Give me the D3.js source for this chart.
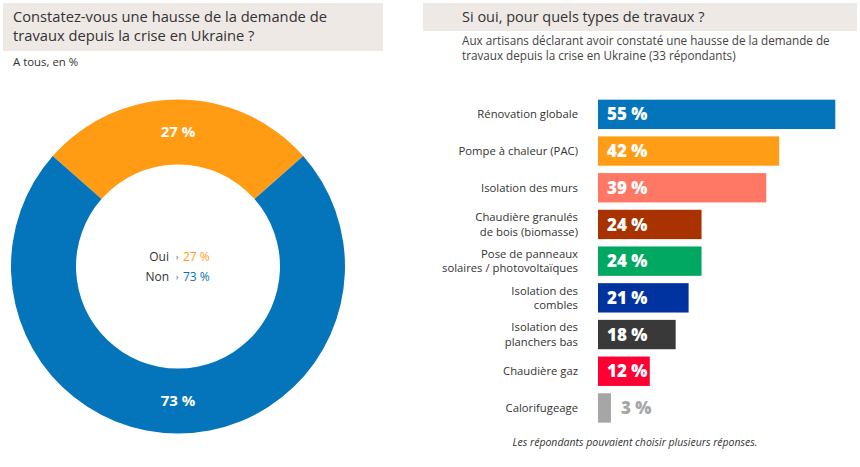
<!DOCTYPE html>
<html><head><meta charset="utf-8">
<script src="https://cdn.jsdelivr.net/npm/d3@7/dist/d3.min.js"></script>
<style>
html,body{margin:0;padding:0;background:#fff;}
svg{display:block;font-family:"Open Sans",sans-serif;}
</style></head>
<body>
<svg id="c" width="860" height="467"></svg>
<script>
// Donut data
const donutLabels = ["Oui", "Non"];
const donutValues = [27, 73];
const donutColors = ["#FF9C14", "#0474BB"];

// Bar data
const barCategories = [
  ["Rénovation globale"],
  ["Pompe à chaleur (PAC)"],
  ["Isolation des murs"],
  ["Chaudière granulés", "de bois (biomasse)"],
  ["Pose de panneaux", "solaires / photovoltaïques"],
  ["Isolation des", "combles"],
  ["Isolation des", "planchers bas"],
  ["Chaudière gaz"],
  ["Calorifugeage"]
];
const barValues = [55, 42, 39, 24, 24, 21, 18, 12, 3];
const barColors = ["#0474BB", "#FF9E16", "#FF7866", "#A83300", "#00A862", "#0033A0", "#393939", "#FF0035", "#A6A6A6"];

const svg = d3.select("#c");
const boxFill = "#EFE9E6";
const textCol = "#333333";

// ---- Left panel header
svg.append("rect").attr("x", 3).attr("y", 3).attr("width", 380).attr("height", 48).attr("fill", boxFill);
const lt = svg.append("text").attr("fill", textCol).attr("font-size", 14.7);
lt.append("tspan").attr("x", 13).attr("y", 22).text("Constatez-vous une hausse de la demande de");
lt.append("tspan").attr("x", 13).attr("y", 41).text("travaux depuis la crise en Ukraine ?");
svg.append("text").attr("x", 13).attr("y", 66).attr("font-size", 11.4).attr("fill", textCol).text("A tous, en %");

// ---- Donut
const cx = 178, cy = 266.5, rO = 167, rI = 102;
const half = Math.PI * donutValues[0] / 100;
const pie = d3.pie().sort(null).value(d => d).startAngle(-half).endAngle(2 * Math.PI - half);
const arcs = pie(donutValues);
const arc = d3.arc().innerRadius(rI).outerRadius(rO);
const g = svg.append("g").attr("transform", `translate(${cx},${cy})`);
g.selectAll("path").data(arcs).join("path").attr("d", arc).attr("fill", (d, i) => donutColors[i]);
const labArc = d3.arc().innerRadius((rI + rO) / 2).outerRadius((rI + rO) / 2);
g.selectAll("text.sl").data(arcs).join("text").attr("class", "sl")
  .attr("x", d => labArc.centroid(d)[0])
  .attr("y", d => labArc.centroid(d)[1])
  .attr("dy", "0.35em")
  .attr("text-anchor", "middle")
  .attr("fill", "#fff").attr("font-weight", 700).attr("font-size", 15)
  .text(d => d.value + " %");

// center legend
const leg = g.append("g");
donutLabels.forEach((l, i) => {
  const yy = -6 + i * 20;
  leg.append("text").attr("x", -9).attr("y", yy).attr("text-anchor", "end").attr("font-size", 12).attr("fill", textCol).text(l);
  leg.append("text").attr("x", -1).attr("y", yy - 1).attr("text-anchor", "middle").attr("font-size", 9).attr("fill", "#666").text("›");
  leg.append("text").attr("x", 5).attr("y", yy).attr("font-size", 12).attr("fill", donutColors[i]).text(donutValues[i] + " %");
});

// ---- Right panel header
svg.append("rect").attr("x", 423).attr("y", 3).attr("width", 434).attr("height", 28).attr("fill", boxFill);
svg.append("text").attr("x", 462).attr("y", 22).attr("font-size", 14.5).attr("fill", textCol).text("Si oui, pour quels types de travaux ?");
const st = svg.append("text").attr("font-size", 11.7).attr("fill", "#444");
st.append("tspan").attr("x", 462).attr("y", 45).text("Aux artisans déclarant avoir constaté une hausse de la demande de");
st.append("tspan").attr("x", 462).attr("y", 60).text("travaux depuis la crise en Ukraine (33 répondants)");

// ---- Bars
const x = d3.scaleLinear().domain([0, 55]).range([598, 835.3]);
const y = d3.scaleBand().domain(d3.range(barValues.length)).range([96, 96 + 36.7 * 9]).paddingInner(0.2).paddingOuter(0.1);
const bars = svg.append("g");
bars.selectAll("rect").data(barValues).join("rect")
  .attr("x", x(0)).attr("y", (d, i) => y(i))
  .attr("width", d => x(d) - x(0)).attr("height", y.bandwidth())
  .attr("fill", (d, i) => barColors[i]);

bars.selectAll("text.v").data(barValues).join("text").attr("class", "v")
  .attr("x", d => (x(d) - x(0) > 40 ? x(0) + 9 : x(d) + 10))
  .attr("y", (d, i) => y(i) + y.bandwidth() / 2)
  .attr("dy", "0.36em")
  .attr("font-size", 17).attr("font-weight", 800)
  .attr("fill", (d, i) => (x(d) - x(0) > 40 ? "#fff" : barColors[i]))
  .text(d => d + " %");

barCategories.forEach((lines, i) => {
  const cyb = y(i) + y.bandwidth() / 2;
  lines.forEach((ln, j) => {
    const off = (j - (lines.length - 1) / 2) * 14.5;
    bars.append("text").attr("text-anchor", "end").attr("font-size", 11.3).attr("fill", textCol)
      .attr("x", 578).attr("y", cyb + off).attr("dy", "0.35em").text(ln);
  });
});

svg.append("text").attr("x", 635).attr("y", 446).attr("text-anchor", "middle")
  .attr("font-size", 10.5).attr("font-style", "italic").attr("fill", textCol)
  .text("Les répondants pouvaient choisir plusieurs réponses.");
</script>
</body></html>
